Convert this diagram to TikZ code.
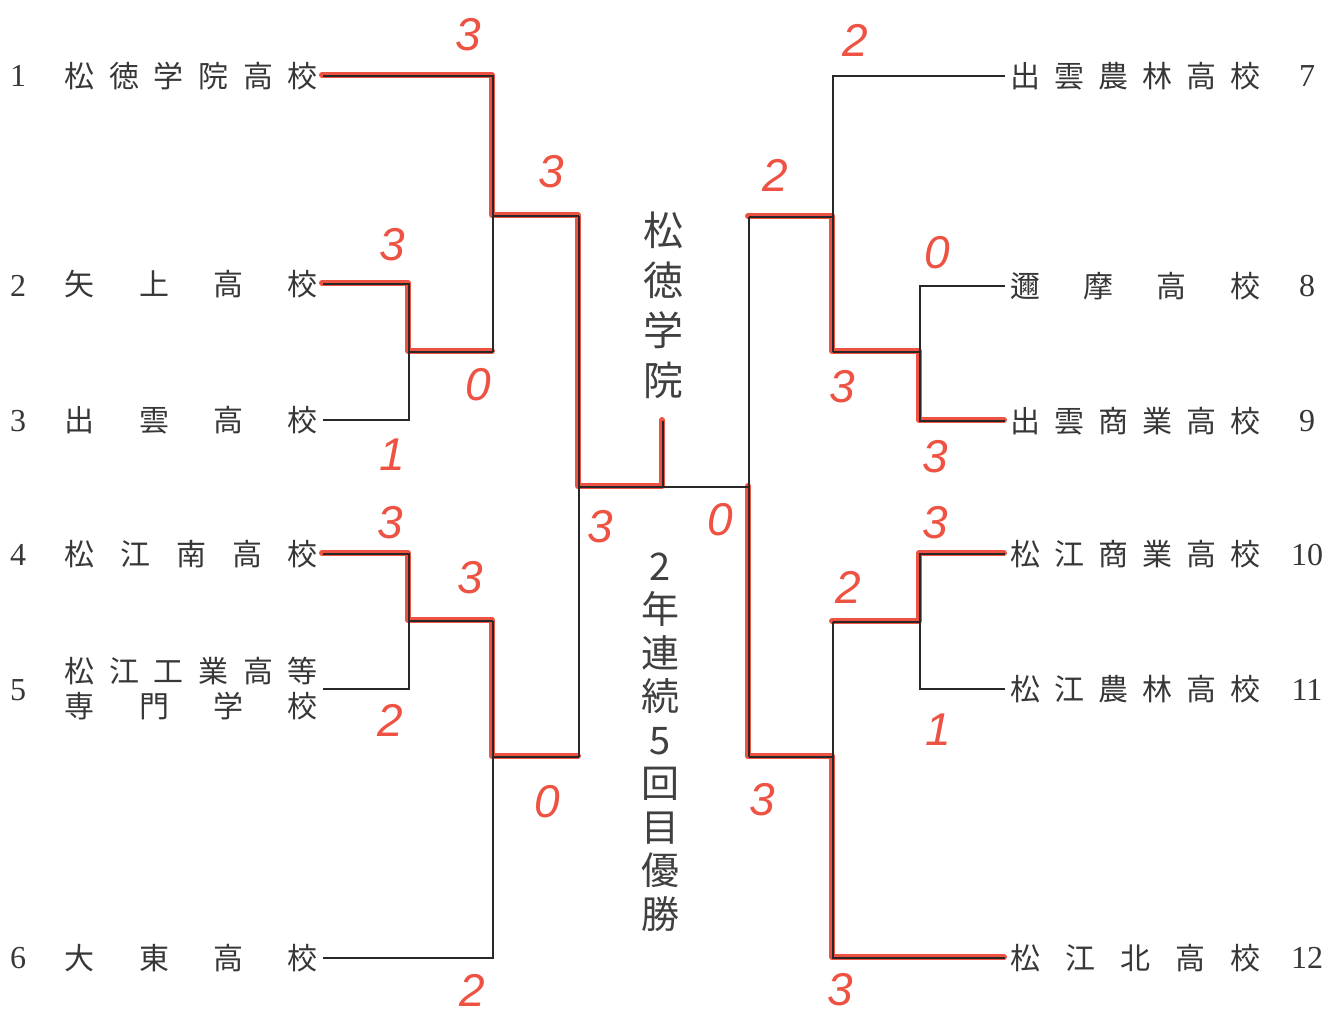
\documentclass[tikz,border=0pt]{standalone}
\usepackage{fontspec}
\setmainfont{Liberation Serif}
\newfontfamily\jpfont{Noto Sans CJK JP}
\newfontfamily\scfont{Liberation Sans}
\definecolor{winred}{RGB}{238,82,66}
\definecolor{txtgray}{RGB}{55,55,55}
\definecolor{linegray}{RGB}{40,40,40}
\newcommand\lnm[1]{\hbox to 253pt{#1}}
\newcommand\rnm[1]{\hbox to 250pt{#1}}
\tikzset{
  brk/.style={draw=linegray, line width=1.6pt, line join=miter},
  win/.style={draw=winred, line width=6pt, line join=round, line cap=round},
  lname/.style={anchor=east, inner xsep=5pt, inner ysep=0pt, text=txtgray, align=center,
     font=\fontsize{30}{35}\selectfont\jpfont},
  rname/.style={anchor=west, inner xsep=5pt, inner ysep=0pt, text=txtgray, align=center,
     font=\fontsize{30}{35}\selectfont\jpfont},
  num/.style={inner sep=0pt, text=txtgray, font=\fontsize{32}{32}\selectfont},
  score/.style={inner sep=0pt, text=winred, font=\fontsize{46}{46}\selectfont\scfont\itshape},
  hand/.style={inner sep=0pt, text=black!75, align=center}
}
\begin{document}
\begin{tikzpicture}[x=1pt,y=-1pt]
\useasboundingbox[fill=white] (0,0) rectangle (1328,1015);

% ---- team names (left) ----
\node[lname] (n1) at (323,76)  {\lnm{松\hfill 徳\hfill 学\hfill 院\hfill 高\hfill 校}};
\node[lname] (n2) at (323,284) {\lnm{矢\hfill 上\hfill 高\hfill 校}};
\node[lname] (n3) at (323,420) {\lnm{出\hfill 雲\hfill 高\hfill 校}};
\node[lname] (n4) at (323,554) {\lnm{松\hfill 江\hfill 南\hfill 高\hfill 校}};
\node[lname] (n5) at (323,689) {\lnm{松\hfill 江\hfill 工\hfill 業\hfill 高\hfill 等}\\\lnm{専\hfill 門\hfill 学\hfill 校}};
\node[lname] (n6) at (323,958) {\lnm{大\hfill 東\hfill 高\hfill 校}};
% ---- team names (right) ----
\node[rname] (n7)  at (1005,76)  {\rnm{出\hfill 雲\hfill 農\hfill 林\hfill 高\hfill 校}};
\node[rname] (n8)  at (1005,286) {\rnm{邇\hfill 摩\hfill 高\hfill 校}};
\node[rname] (n9)  at (1005,421) {\rnm{出\hfill 雲\hfill 商\hfill 業\hfill 高\hfill 校}};
\node[rname] (n10) at (1005,554) {\rnm{松\hfill 江\hfill 商\hfill 業\hfill 高\hfill 校}};
\node[rname] (n11) at (1005,689) {\rnm{松\hfill 江\hfill 農\hfill 林\hfill 高\hfill 校}};
\node[rname] (n12) at (1005,958) {\rnm{松\hfill 江\hfill 北\hfill 高\hfill 校}};

% ---- seed numbers ----
\node[num] (k1) at (18,76) {1};
\node[num] (k2) at (18,286) {2};
\node[num] (k3) at (18,421) {3};
\node[num] (k4) at (18,555) {4};
\node[num] (k5) at (18,690) {5};
\node[num] (k6) at (18,958) {6};
\node[num] (k7) at (1307,76) {7};
\node[num] (k8) at (1307,286) {8};
\node[num] (k9) at (1307,421) {9};
\node[num] (k10) at (1307,555) {10};
\node[num] (k11) at (1307,690) {11};
\node[num] (k12) at (1307,958) {12};

% ---- junction coordinates ----
\coordinate (a1) at (493,76);
\coordinate (a2) at (409,284);
\coordinate (a3) at (409,420);
\coordinate (m23) at (409,352);
\coordinate (m23r) at (493,352);
\coordinate (q1) at (493,216);
\coordinate (q1r) at (579,216);
\coordinate (a4) at (409,554);
\coordinate (a5) at (409,689);
\coordinate (m45) at (409,621);
\coordinate (m45r) at (493,621);
\coordinate (a6) at (493,958);
\coordinate (q2) at (493,757);
\coordinate (q2r) at (579,757);
\coordinate (f1) at (579,487);
\coordinate (fc) at (663,487);
\coordinate (ftop) at (663,421);
\coordinate (f2) at (749,487);
\coordinate (b7) at (833,76);
\coordinate (b8) at (920,286);
\coordinate (b9) at (920,421);
\coordinate (m89) at (920,352);
\coordinate (m89l) at (833,352);
\coordinate (r1) at (833,217);
\coordinate (r1l) at (749,217);
\coordinate (b10) at (920,554);
\coordinate (b11) at (920,689);
\coordinate (m1011) at (920,622);
\coordinate (m1011l) at (833,622);
\coordinate (b12) at (833,958);
\coordinate (r2) at (833,757);
\coordinate (r2l) at (749,757);

% ---- winner paths (red marker) ----
\begin{scope}[transform canvas={xshift=-1pt, yshift=1pt}]
\draw[win] (n1.east) -- (a1) -- (q1) -- (q1r) -- (f1) -- (fc) -- (ftop);
\draw[win] (n2.east) -- (a2) -- (m23) -- (m23r);
\draw[win] (n4.east) -- (a4) -- (m45) -- (m45r) -- (q2) -- (q2r);
\draw[win] (n9.west) -- (b9) -- (m89) -- (m89l) -- (r1) -- (r1l);
\draw[win] (n10.west) -- (b10) -- (m1011) -- (m1011l);
\draw[win] (n12.west) -- (b12) -- (r2) -- (r2l) -- (f2);
\end{scope}

% ---- bracket lines ----
\draw[brk] (n1.east) -- (a1) -- (m23r);
\draw[brk] (q1) -- (q1r);
\draw[brk] (n2.east) -- (a2) -- (a3) -- (n3.east);
\draw[brk] (m23) -- (m23r);
\draw[brk] (n4.east) -- (a4) -- (a5) -- (n5.east);
\draw[brk] (m45) -- (m45r);
\draw[brk] (n6.east) -- (a6) -- (m45r);
\draw[brk] (q2) -- (q2r);
\draw[brk] (q1r) -- (q2r);
\draw[brk] (f1) -- (f2);
\draw[brk] (fc) -- (ftop);
\draw[brk] (n7.west) -- (b7) -- (m89l);
\draw[brk] (r1) -- (r1l);
\draw[brk] (n8.west) -- (b8) -- (b9) -- (n9.west);
\draw[brk] (m89) -- (m89l);
\draw[brk] (n10.west) -- (b10) -- (b11) -- (n11.west);
\draw[brk] (m1011) -- (m1011l);
\draw[brk] (n12.west) -- (b12) -- (m1011l);
\draw[brk] (r2) -- (r2l);
\draw[brk] (r1l) -- (r2l);

% ---- scores ----
\node[score] (s1) at (468,35) {3};
\node[score] (s2) at (551,172) {3};
\node[score] (s3) at (392,245) {3};
\node[score] (s4) at (478,385) {0};
\node[score] (s5) at (392,455) {1};
\node[score] (s6) at (600,527) {3};
\node[score] (s7) at (720,520) {0};
\node[score] (s8) at (390,523) {3};
\node[score] (s9) at (470,578) {3};
\node[score] (s10) at (390,720) {2};
\node[score] (s11) at (547,802) {0};
\node[score] (s12) at (472,990) {2};
\node[score] (s13) at (855,40) {2};
\node[score] (s14) at (775,175) {2};
\node[score] (s15) at (937,253) {0};
\node[score] (s16) at (842,387) {3};
\node[score] (s17) at (935,457) {3};
\node[score] (s18) at (935,523) {3};
\node[score] (s19) at (848,587) {2};
\node[score] (s20) at (938,730) {1};
\node[score] (s21) at (762,800) {3};
\node[score] (s22) at (840,990) {3};

% ---- champion notes ----
\node[hand, font=\fontsize{40}{50}\selectfont\jpfont] (champ) at (663,305) {松\\徳\\学\\院};
\node[hand, font=\fontsize{38}{43.5}\selectfont\jpfont] (note) at (660,742) {2\\年\\連\\続\\5\\回\\目\\優\\勝};
\end{tikzpicture}
\end{document}
